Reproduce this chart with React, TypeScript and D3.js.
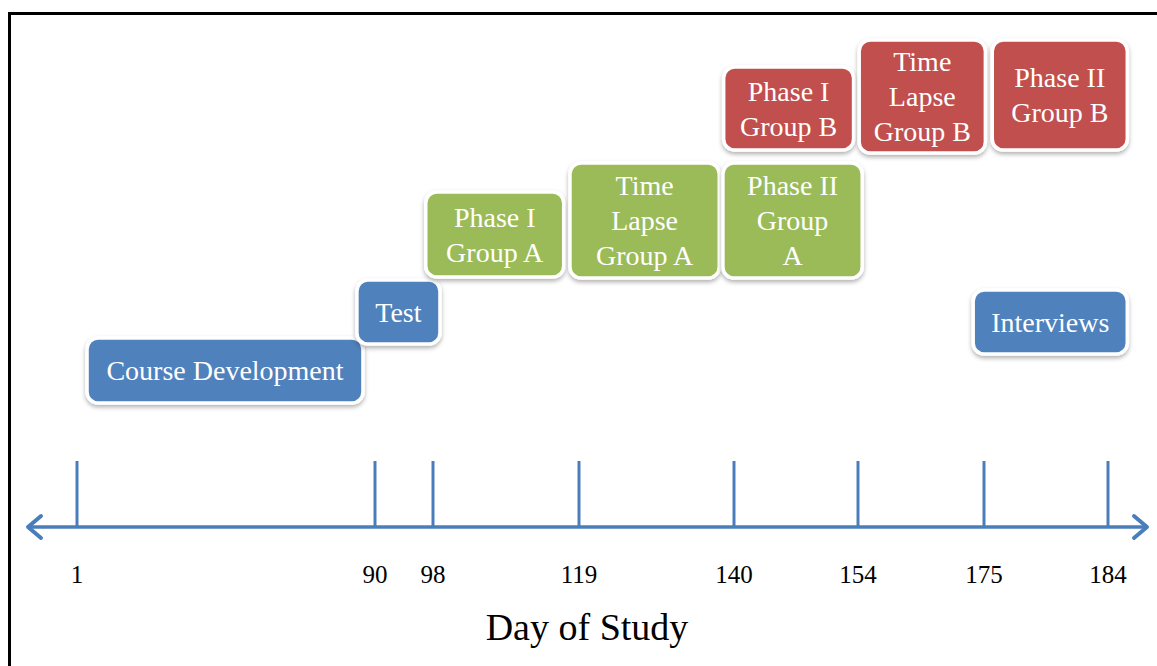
import React from "react";
import * as d3 from "d3";

// ---- data ----
const tickDays = [1, 90, 98, 119, 140, 154, 175, 184];
const taskNames = [
  ["Course Development"],
  ["Test"],
  ["Phase I", "Group A"],
  ["Time", "Lapse", "Group A"],
  ["Phase II", "Group", "A"],
  ["Phase I", "Group B"],
  ["Time", "Lapse", "Group B"],
  ["Phase II", "Group B"],
  ["Interviews"],
];
const taskGroup = ["dev", "dev", "A", "A", "A", "B", "B", "B", "dev"];
const taskStart = [4.0, 84.6, 97.0, 117.7, 138.5, 138.6, 154.2, 175.6, 173.2];
const taskEnd = [86.4, 99.0, 116.8, 138.0, 154.7, 153.5, 175.1, 185.4, 185.4];
const taskTop = [3.78, 4.94, 6.7, 7.28, 7.28, 9.2, 9.74, 9.74, 4.74];
const taskBottom = [2.48, 3.66, 5.0, 4.98, 4.98, 7.54, 7.48, 7.54, 3.46];
const axisTitle = "Day of Study";

// ---- layout ----
const W = 1157;
const H = 666;
const tickRange = [77, 375, 433, 579, 734, 858, 984, 1108];
const axisY = 527;
const groupColor: Record<string, string> = {
  dev: "#4F81BD",
  A: "#9BBB59",
  B: "#C0504D",
};

export default function App() {
  const x = d3.scaleLinear().domain(tickDays).range(tickRange);
  const y = d3.scaleLinear().domain([0, 10]).range([axisY, 27]);
  const font = "Liberation Serif, DejaVu Serif, serif";
  const axisColor = "#4A7EBB";
  const xl = 28;
  const xr = 1147;

  return (
    <svg
      width={W}
      height={H}
      style={{ position: "absolute", left: 0, top: 0, display: "block", background: "#fff" }}
    >
      <defs>
        <filter id="sh" x="-20%" y="-20%" width="140%" height="150%">
          <feDropShadow dx="0" dy="2.5" stdDeviation="2" floodColor="#000" floodOpacity="0.3" />
        </filter>
      </defs>
      {/* frame */}
      <line x1={8} x2={W} y1={13.5} y2={13.5} stroke="#000" strokeWidth={3} />
      <line x1={9.5} x2={9.5} y1={12} y2={H} stroke="#000" strokeWidth={3} />

      {/* boxes */}
      {taskNames.map((lines, i) => {
        const x0 = x(taskStart[i]);
        const x1 = x(taskEnd[i]);
        const y0 = y(taskTop[i]);
        const y1 = y(taskBottom[i]);
        const cx = (x0 + x1) / 2;
        const cy = (y0 + y1) / 2;
        const lh = 35;
        return (
          <g key={i}>
            <rect
              x={x0}
              y={y0}
              width={x1 - x0}
              height={y1 - y0}
              rx={11}
              ry={11}
              fill={groupColor[taskGroup[i]]}
              stroke="#fff"
              strokeWidth={3.5}
              filter="url(#sh)"
            />
            {lines.map((t, j) => (
              <text
                key={j}
                x={cx}
                y={cy + (j - (lines.length - 1) / 2) * lh}
                dy="0.35em"
                textAnchor="middle"
                fill="#fff"
                style={{ fontFamily: font, fontSize: 28 }}
              >
                {t}
              </text>
            ))}
          </g>
        );
      })}

      {/* axis */}
      <line x1={xl + 2} x2={xr - 2} y1={axisY} y2={axisY} stroke={axisColor} strokeWidth={3.5} />
      <path
        d={`M${xl + 13},${axisY - 11} L${xl},${axisY} L${xl + 13},${axisY + 11}`}
        fill="none"
        stroke={axisColor}
        strokeWidth={4}
        strokeLinecap="round"
        strokeLinejoin="round"
      />
      <path
        d={`M${xr - 13},${axisY - 11} L${xr},${axisY} L${xr - 13},${axisY + 11}`}
        fill="none"
        stroke={axisColor}
        strokeWidth={4}
        strokeLinecap="round"
        strokeLinejoin="round"
      />
      {tickDays.map((d) => (
        <g key={d}>
          <line x1={x(d)} x2={x(d)} y1={461} y2={axisY} stroke={axisColor} strokeWidth={3} />
          <text
            x={x(d)}
            y={583}
            textAnchor="middle"
            fill="#000"
            style={{ fontFamily: font, fontSize: 25 }}
          >
            {d}
          </text>
        </g>
      ))}
      <text
        x={587}
        y={640}
        textAnchor="middle"
        fill="#000"
        style={{ fontFamily: font, fontSize: 38 }}
      >
        {axisTitle}
      </text>
    </svg>
  );
}
